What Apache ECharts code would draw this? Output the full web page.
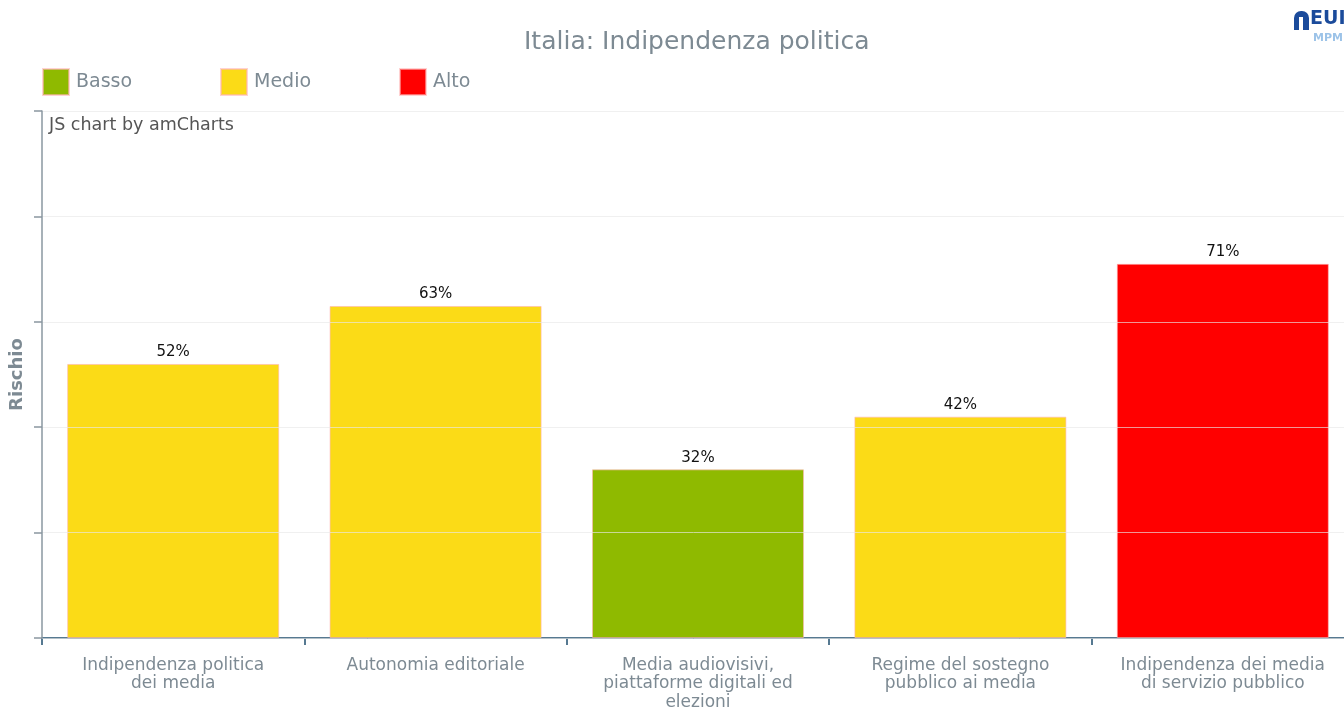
<!DOCTYPE html>
<html>
<head>
<meta charset="utf-8">
<script src="https://cdn.jsdelivr.net/npm/echarts@6/dist/echarts.min.js"></script>
<style>
	html, body { margin: 0; padding: 0; background: #fff; }
	#chart { width: 1344px; height: 707px; }
</style>
</head>
<body>
<div id="chart"></div>
<script>
var categories = [
	'Indipendenza politica\ndei media',
	'Autonomia editoriale',
	'Media audiovisivi,\npiattaforme digitali ed\nelezioni',
	'Regime del sostegno\npubblico ai media',
	'Indipendenza dei media\ndi servizio pubblico'
];
var values = [52, 63, 32, 42, 71];
var levels = ['Medio', 'Medio', 'Basso', 'Medio', 'Alto'];
var levelNames = ['Basso', 'Medio', 'Alto'];
var levelColors = ['#8fba00', '#fbdb17', '#ff0000'];
var yTicks = [0, 20, 40, 60, 80, 100];

var font = 'DejaVu Sans, Verdana, sans-serif';
var greyText = '#7d8a93';

var chart = echarts.init(document.getElementById('chart'));

var series = [];
var legends = [];
var legendLeft = [42, 220, 399];
for (var k = 0; k < levelNames.length; k++) {
	var data = [];
	for (var i = 0; i < values.length; i++) {
		data.push(levels[i] === levelNames[k] ? values[i] : '-');
	}
	series.push({
		type: 'bar',
		name: levelNames[k],
		stack: 'risk',
		data: data,
		barWidth: '80.8%',
		itemStyle: {
			color: levelColors[k],
			borderColor: 'rgba(255,180,180,0.6)',
			borderWidth: 1
		},
		label: {
			show: true,
			position: 'top',
			distance: 4,
			formatter: '{c}%',
			color: '#111',
			fontSize: 15,
			fontFamily: font
		}
	});
	legends.push({
		data: [levelNames[k]],
		left: legendLeft[k],
		top: 68,
		padding: 0,
		itemWidth: 26,
		itemHeight: 26,
		itemGap: 7,
		icon: 'rect',
		selectedMode: false,
		textStyle: { color: greyText, fontSize: 19, fontFamily: font, padding: [0, 0, 0, 2] }
	});
}

var option = {
	animation: false,
	backgroundColor: '#fff',
	title: {
		text: 'Italia: Indipendenza politica',
		left: 524,
		top: 30,
		padding: 0,
		textStyle: { color: greyText, fontSize: 25, fontWeight: 'normal', fontFamily: font }
	},
	legend: legends,
	grid: { left: 42, right: -10, top: 111, bottom: 69, outerBoundsMode: 'none' },
	xAxis: {
		type: 'category',
		data: categories,
		axisLine: { lineStyle: { color: '#1f4e6e', width: 1.5 } },
		axisTick: { show: true, length: 7, lineStyle: { color: '#1f4e6e', width: 1.5 } },
		axisLabel: {
			interval: 0,
			margin: 18,
			color: greyText,
			fontSize: 17,
			lineHeight: 18.5,
			fontFamily: font
		}
	},
	yAxis: {
		type: 'value',
		min: yTicks[0],
		max: yTicks[yTicks.length - 1],
		interval: yTicks[1] - yTicks[0],
		z: 5,
		name: 'Rischio',
		nameLocation: 'middle',
		nameGap: 16,
		nameTextStyle: { color: greyText, fontSize: 18, fontWeight: 'bold', fontFamily: font },
		axisLine: { show: true, lineStyle: { color: '#8a97a0', width: 1.5 } },
		axisTick: { show: true, length: 8, lineStyle: { color: '#8a97a0', width: 1.5 } },
		axisLabel: { show: false },
		splitLine: { lineStyle: { color: 'rgba(232,232,232,0.65)', width: 1 } }
	},
	graphic: [
		{
			type: 'text', left: 49, top: 116,
			style: { text: 'JS chart by amCharts', fill: '#555', fontSize: 17.5, fontFamily: font }
		},
		{
			type: 'group', left: 1294, top: 10,
			children: [
				{ type: 'rect', shape: { x: 0, y: 1, width: 15, height: 19, r: [7, 7, 0, 0] }, style: { fill: '#1b4b9b' } },
				{ type: 'rect', shape: { x: 5, y: 7, width: 4, height: 13 }, style: { fill: '#fff' } },
				{ type: 'text', x: 16, y: 0, style: { text: 'EUI', fill: '#1b4b9b', fontSize: 19, fontWeight: 'bold', fontFamily: font } },
				{ type: 'text', x: 19, y: 23, style: { text: 'MPM', fill: '#9cc3e8', fontSize: 11, fontWeight: 'bold', fontFamily: font } }
			]
		}
	],
	series: series
};

chart.setOption(option);
</script>
</body>
</html>
